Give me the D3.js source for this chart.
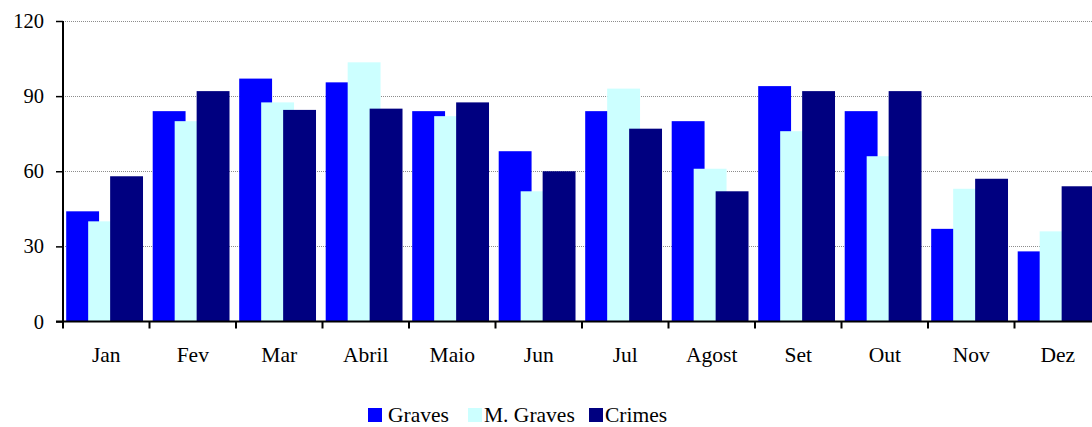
<!DOCTYPE html>
<html>
<head>
<meta charset="utf-8">
<script src="https://cdn.jsdelivr.net/npm/d3@7"></script>
<style>
  html, body { margin: 0; padding: 0; background: #fff; }
  svg { display: block; overflow: hidden; }
</style>
</head>
<body>
<div id="chart"></div>
<script>
const months = ['Jan', 'Fev', 'Mar', 'Abril', 'Maio', 'Jun', 'Jul', 'Agost', 'Set', 'Out', 'Nov', 'Dez'];
const seriesNames = ['Graves', 'M. Graves', 'Crimes'];
const graves   = [44, 84, 97, 95.5, 84, 68, 84, 80, 94, 84, 37, 28];
const mGraves  = [40, 80, 87.5, 103.5, 82, 52, 93, 61, 76, 66, 53, 36];
const crimes   = [58, 92, 84.5, 85, 87.5, 60, 77, 52, 92, 92, 57, 54];
const yTicks   = [0, 30, 60, 90, 120];
const colors   = ['#0000ff', '#ccffff', '#000080'];

const FONT = "'Liberation Serif', 'Times New Roman', 'DejaVu Serif', serif";
const W = 1092, H = 427;
const margin = {top: 21, left: 63};
const plotH = 300.5;
const bandW = 86.5;

const svg = d3.select('#chart').append('svg')
  .attr('width', W)
  .attr('height', H)
  .attr('font-family', FONT);

const x = d3.scaleBand()
  .domain(months)
  .range([margin.left, margin.left + bandW * months.length])
  .padding(0);

const y = d3.scaleLinear()
  .domain([0, 120])
  .range([margin.top + plotH, margin.top]);

// gridlines
svg.append('g')
  .selectAll('line')
  .data(yTicks.filter(d => d > 0))
  .join('line')
  .attr('x1', margin.left)
  .attr('x2', W)
  .attr('y1', d => Math.round(y(d)) + 0.5)
  .attr('y2', d => Math.round(y(d)) + 0.5)
  .attr('stroke', '#8c8c8c')
  .attr('stroke-width', 1)
  .attr('stroke-dasharray', '1,1');

// bars (later series overlap earlier ones)
const barW = bandW * 0.38;
const step = bandW * 0.254;
const offset = bandW * 0.037;
const allSeries = [graves, mGraves, crimes];

allSeries.forEach((vals, s) => {
  svg.append('g')
    .selectAll('rect')
    .data(vals)
    .join('rect')
    .attr('x', (d, i) => x(months[i]) + offset + s * step)
    .attr('y', d => y(d))
    .attr('width', barW)
    .attr('height', d => y(0) - y(d))
    .attr('fill', colors[s]);
});

// y axis
const yAxis = svg.append('g')
  .attr('transform', `translate(${margin.left},0)`)
  .call(d3.axisLeft(y).tickValues(yTicks).tickSize(7).tickPadding(12));
yAxis.attr('font-family', FONT).attr('font-size', 20.5);
yAxis.select('.domain').remove();
yAxis.selectAll('.tick line').attr('stroke', '#000').attr('stroke-width', 1.5);
yAxis.selectAll('.tick text').attr('fill', '#000');
svg.append('line')
  .attr('x1', margin.left).attr('x2', margin.left)
  .attr('y1', y(120)).attr('y2', y(0))
  .attr('stroke', '#000').attr('stroke-width', 2);

// x axis
svg.append('line')
  .attr('x1', margin.left - 7).attr('x2', W)
  .attr('y1', y(0)).attr('y2', y(0))
  .attr('stroke', '#000').attr('stroke-width', 2);

svg.append('g')
  .selectAll('line')
  .data(months)
  .join('line')
  .attr('x1', d => x(d))
  .attr('x2', d => x(d))
  .attr('y1', y(0))
  .attr('y2', y(0) + 7)
  .attr('stroke', '#000')
  .attr('stroke-width', 2);

svg.append('g')
  .selectAll('text')
  .data(months)
  .join('text')
  .attr('x', d => x(d) + x.bandwidth() / 2)
  .attr('y', y(0) + 40)
  .attr('text-anchor', 'middle')
  .attr('font-family', FONT)
  .attr('font-size', 21.5)
  .text(d => d);

// legend
const legendItems = [
  {name: seriesNames[0], color: colors[0], x: 368, tx: 388},
  {name: seriesNames[1], color: colors[1], x: 468, tx: 484},
  {name: seriesNames[2], color: colors[2], x: 589, tx: 605}
];
const legend = svg.append('g').attr('class', 'legend');
legend.selectAll('rect')
  .data(legendItems)
  .join('rect')
  .attr('x', d => d.x)
  .attr('y', 408)
  .attr('width', 14)
  .attr('height', 14)
  .attr('fill', d => d.color);
legend.selectAll('text')
  .data(legendItems)
  .join('text')
  .attr('x', d => d.tx)
  .attr('y', 422)
  .attr('font-family', FONT)
  .attr('font-size', 21.5)
  .text(d => d.name);
</script>
</body>
</html>
